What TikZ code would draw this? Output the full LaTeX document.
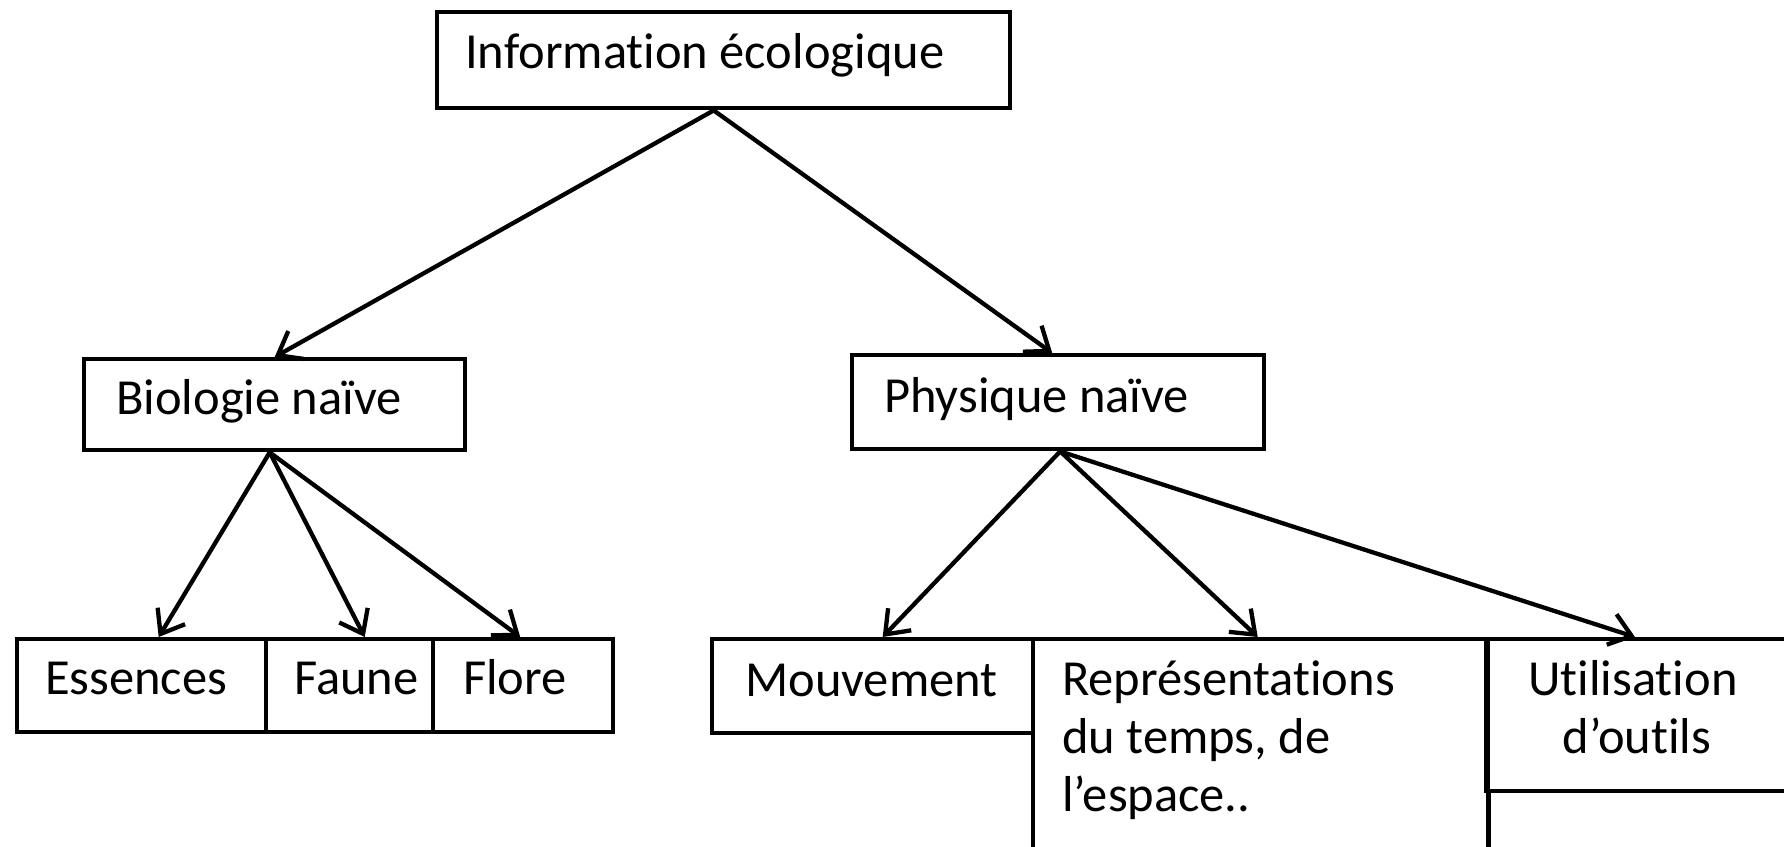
\documentclass[tikz,border=0pt]{standalone}
\usepackage{fontspec}
\setmainfont{Carlito}[Ligatures={NoCommon,NoContextual}]
\usetikzlibrary{arrows.meta}
\begin{document}
\begin{tikzpicture}[x=1pt,y=-1pt,
  box/.style={draw, line width=4.4pt, rectangle, inner sep=0pt, anchor=north west},
  lbl/.style={anchor=base west, inner sep=0pt, font=\fontsize{50.5}{58}\selectfont},
  clbl/.style={lbl, anchor=base},
  arr/.style={line width=4.3pt, line cap=round, -{Straight Barb[length=21pt,width=32pt]}}]
\useasboundingbox (0,0) rectangle (1784,846);
\clip (0,0) rectangle (1784,846);

% boxes
\node[box, minimum width=573pt, minimum height=96pt] (info) at (435,10) {};
\node[box, minimum width=381pt, minimum height=91pt] (bio) at (82,357) {};
\node[box, minimum width=412pt, minimum height=94pt] (phys) at (850,353) {};
\node[box, minimum width=249pt, minimum height=93pt] (ess) at (15,637) {};
\node[box, minimum width=167pt, minimum height=93pt] (faune) at (264,637) {};
\node[box, minimum width=180pt, minimum height=93pt] (flore) at (431,637) {};
\node[box, minimum width=321pt, minimum height=94pt] (mouv) at (710,637) {};
\node[box, minimum width=455pt, minimum height=300pt] (rep) at (1031,637) {};
\node[box, minimum width=400pt, minimum height=152pt] (util) at (1484,637) {};
\node[box, minimum width=400pt, minimum height=200pt] (next) at (1487,789) {};

% labels
\node[lbl] at (465,68) {Information écologique};
\node[lbl] at (116,414) {Biologie naïve};
\node[lbl] at (884,412) {Physique naïve};
\node[lbl] at (45,694) {Essences};
\node[lbl] at (294,694) {Faune};
\node[lbl] at (463,694) {Flore};
\node[lbl] at (745,696) {Mouvement};
\node[lbl] at (1062,695) {Représentations};
\node[lbl] at (1062,753) {du temps, de};
\node[lbl] at (1062,811) {l’espace..};
\node[clbl] at (1633,695) {Utilisation};
\node[clbl] at (1637,753) {d’outils};

% connectors
\draw[arr] ([xshift=-10pt]info.south) -- (bio.north);
\draw[arr] ([xshift=-10pt]info.south) -- ([xshift=-6pt]phys.north);
\draw[arr] ([xshift=-5pt]bio.south) -- ([xshift=17pt]ess.north);
\draw[arr] ([xshift=-5pt]bio.south) -- ([xshift=15pt]faune.north);
\draw[arr] ([xshift=-5pt]bio.south) -- ([xshift=-3pt]flore.north);
\draw[arr] ([xshift=2pt]phys.south) -- ([xshift=10pt]mouv.north);
\draw[arr] ([xshift=2pt]phys.south) -- ([xshift=-3pt]rep.north);
\draw[arr] ([xshift=2pt]phys.south) -- ([xshift=151pt]util.north west);
\end{tikzpicture}
\end{document}
